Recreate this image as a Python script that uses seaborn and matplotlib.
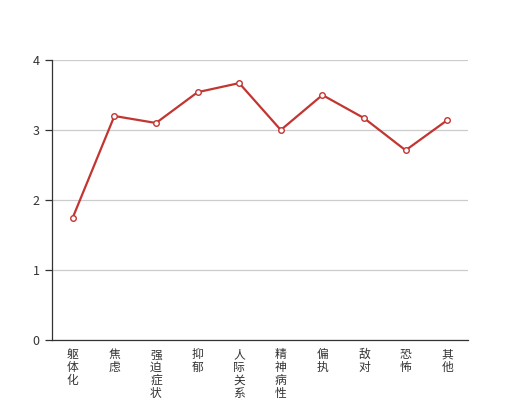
import matplotlib
matplotlib.use("Agg")
import matplotlib.pyplot as plt
import seaborn as sns
import pandas as pd
from matplotlib.ticker import FixedLocator

categories = ["躯体化", "焦虑", "强迫症状", "抑郁", "人际关系敏感", "精神病性", "偏执", "敌对", "恐怖", "其他"]
values = [1.75, 3.2, 3.1, 3.54, 3.67, 3.0, 3.5, 3.17, 2.71, 3.14]
yticks = [0, 1, 2, 3, 4]

sns.set_theme(style="white")
plt.rcParams['font.family'] = ['Noto Sans CJK SC', 'DejaVu Sans']

df = pd.DataFrame({"pos": list(range(len(categories))), "value": values})

fig = plt.figure(figsize=(5.2, 4.0), dpi=100)
ax = fig.add_axes([0.1, 0.15, 0.8, 0.7])

sns.lineplot(data=df, x="pos", y="value", ax=ax, color="#c23531", linewidth=1.6,
             marker="o", markersize=4, markerfacecolor="white",
             markeredgecolor="#c23531", markeredgewidth=1, zorder=3)

ax.set_xlim(-0.5, len(categories) - 0.5)
ax.set_ylim(0, 4)
ax.set_yticks(yticks)
ax.set_yticklabels([str(t) for t in yticks])
ax.yaxis.grid(True, color="#cccccc", linewidth=0.9)
ax.set_axisbelow(True)

ax.set_xticks(range(len(categories)))
ax.set_xticklabels(["\n".join(c) for c in categories], linespacing=0.98, va="top")
ax.xaxis.set_minor_locator(FixedLocator([i - 0.5 for i in range(len(categories) + 1)]))
ax.tick_params(axis="x", which="major", length=0, pad=6, labelsize=8.5, labelcolor="#333333")
ax.tick_params(axis="x", which="minor", length=5, width=0.9, color="#333333", direction="out")
ax.tick_params(axis="y", which="major", length=5, width=0.9, color="#333333", left=True,
               labelsize=9, labelcolor="#333333", pad=4)

ax.set_xlabel("")
ax.set_ylabel("")
for s in ["top", "right"]:
    ax.spines[s].set_visible(False)
for s in ["left", "bottom"]:
    ax.spines[s].set_color("#333333")
    ax.spines[s].set_linewidth(0.9)

fig.savefig("out.png", dpi=100)
